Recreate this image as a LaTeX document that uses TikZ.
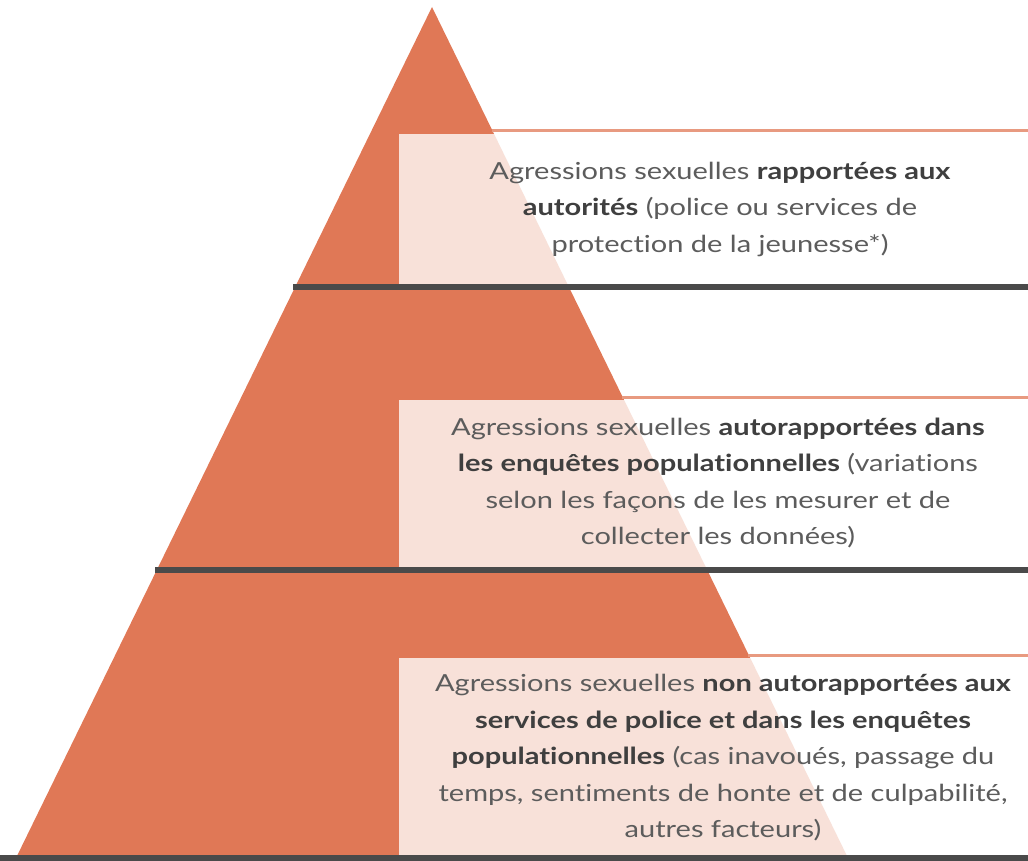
\documentclass[tikz,border=0pt]{standalone}
\usepackage{fontspec}
\setmainfont{Lato}[FakeStretch=1.235,Ligatures={NoCommon}]
\definecolor{pyr}{HTML}{E07856}
\definecolor{bar}{HTML}{4A4A4A}
\definecolor{txt}{HTML}{5C5C5C}
\definecolor{txtb}{HTML}{3F3F3F}
\newcommand{\hl}[1]{{\bfseries\color{txtb}#1}}

\begin{document}
\begin{tikzpicture}[x=1pt,y=-1pt]
\useasboundingbox (0,0) rectangle (1028,861);
% pyramid
\fill[pyr] (432,7) -- (848,858) -- (16,858) -- cycle;
% thin lines above the boxes
\begin{scope}[pyr!75,line width=3pt]
    \draw (492,131) -- (1028,131);
    \draw (622,397) -- (1028,397);
    \draw (748,655) -- (1028,655);
\end{scope}
% boxes
\begin{scope}[white,opacity=.78]
    \fill (399,134) rectangle (1028,284);
    \fill (399,400) rectangle (1028,567);
    \fill (399,658) rectangle (1028,855);
\end{scope}
% bars
\begin{scope}[bar,line width=6pt]
    \draw (293,287) -- (1028,287);
    \draw (155,570) -- (1028,570);
    \draw (0,858) -- (1028,858);
\end{scope}
\begin{scope}[every node/.style={align=center,text=txt,font=\fontsize{23.5}{36.5}\selectfont}]
    \node (T1) at (720,209) {Agressions sexuelles \hl{rapportées aux}\\
        \hl{autorités} (police ou services de\\
        protection de la jeunesse*)};
    \node (T2) at (718,483) {Agressions sexuelles \hl{autorapportées dans}\\
        \hl{les enquêtes populationnelles} (variations\\
        selon les façons de les mesurer et de\\
        collecter les données)};
    \node (T3) at (723,758) {Agressions sexuelles \hl{non autorapportées aux}\\
        \hl{services de police et dans les enquêtes}\\
        \hl{populationnelles} (cas inavoués, passage du\\
        temps, sentiments de honte et de culpabilité,\\
        autres facteurs)};
\end{scope}
\end{tikzpicture}
\end{document}
